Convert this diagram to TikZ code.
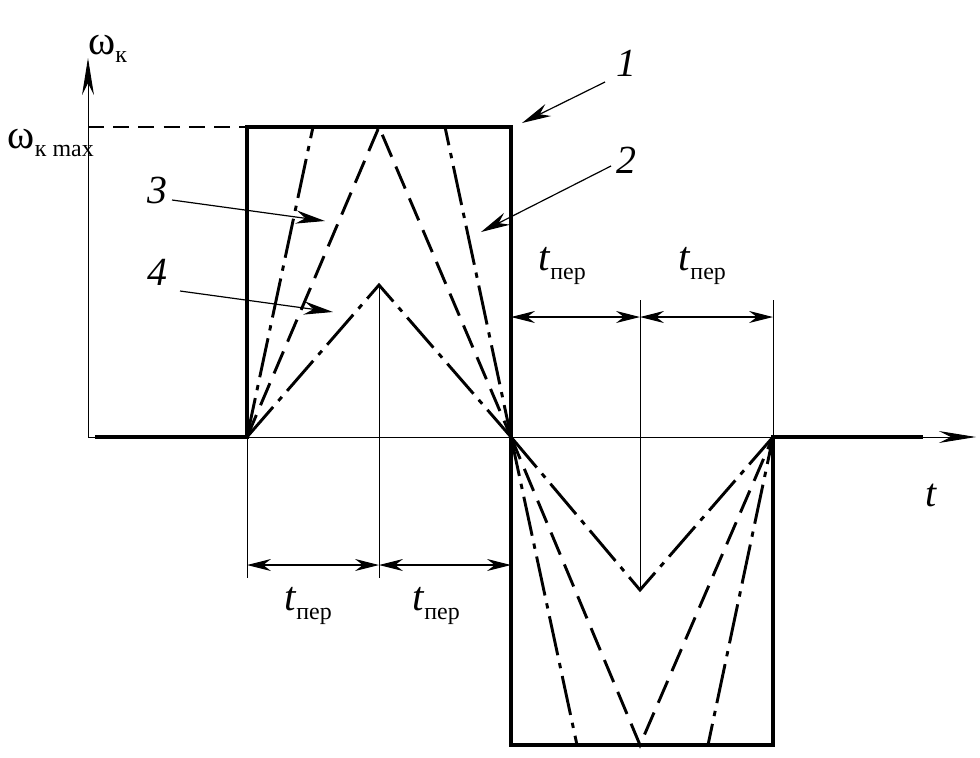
\documentclass[tikz,border=0pt]{standalone}
\usepackage{fontspec}
\setmainfont{Liberation Serif}
\usetikzlibrary{positioning, arrows.meta}

\newcommand{\lowsub}[1]{\raisebox{-0.45ex}{\fontsize{18}{18}\selectfont #1}}
\newcommand{\tper}{\textit{t}\lowsub{пер}}

\tikzset{
  mainline/.style={line width=2.4pt},
  guide/.style={line width=0.6pt},
  curvedash/.style={line width=2.2pt, dash pattern=on 18pt off 8pt},
  curvechain/.style={line width=2.2pt, dash pattern=on 30pt off 6pt on 4pt off 6pt},
  dimline/.style={line width=0.8pt, {Stealth[length=18pt,width=9pt]}-{Stealth[length=18pt,width=9pt]}},
  pointer/.style={line width=0.9pt, -{Stealth[length=22pt,width=10pt]}},
  axisline/.style={line width=0.7pt, -{Stealth[length=28pt,width=9pt]}},
  lbl/.style={inner sep=0pt, font=\fontsize{31}{34}\selectfont},
  numlbl/.style={inner sep=0pt, font=\fontsize{30}{33}\selectfont\itshape}
}

\begin{document}
\begin{tikzpicture}[x=0.02646cm, y=-0.02646cm]
    \useasboundingbox (0,0) rectangle (980,757);

    % key points
    \coordinate (o)  at (88,437);
    \coordinate (ytop) at (88,58);
    \coordinate (xend) at (976,437);
    \coordinate (s0) at (95,437);
    \coordinate (a)  at (247,437);
    \coordinate (m1) at (379,437);
    \coordinate (b)  at (511,437);
    \coordinate (m2) at (640,437);
    \coordinate (c)  at (773,437);
    \coordinate (s1) at (923,437);
    \coordinate (atop) at (247,127);
    \coordinate (btop) at (511,127);
    \coordinate (bbot) at (511,745);
    \coordinate (cbot) at (773,745);
    \coordinate (wmax) at (88,127);

    % axes
    \draw[axisline] (o) -- (ytop);
    \draw[axisline] (o) -- (xend);
    \node[lbl, anchor=base west] (wk) at (88,54) {ω\lowsub{к}};
    \node[lbl, anchor=base east] (wkmax) at (94,148) {ω\lowsub{к max}};
    \node[numlbl] (tax) at (931,495) {t};

    % curve 1
    \draw[dash pattern=on 12pt off 7pt, line width=0.8pt] (wmax) -- (atop);
    \draw[mainline] (s0) -- (a) -- (atop) -- (btop) -- (bbot) -- (cbot) -- (c) -- (s1);

    % curves 2, 3, 4
    \draw[curvechain] (a) -- (313,127) -- (445,127) -- (b);
    \draw[curvechain] (b) -- (577,745) -- (708,745) -- (c);
    \draw[curvedash] (a) -- (379,127) -- (b);
    \draw[curvedash] (b) -- (640,745) -- (c);
    \draw[curvechain] (a) -- (379,285) -- (b);
    \draw[curvechain] (b) -- (640,590) -- (c);

    % guides
    \draw[guide] (a) -- (247,578);
    \draw[guide] (379,285) -- (379,578);
    \draw[guide] (640,300) -- (640,590);
    \draw[guide] (773,300) -- (c);

    % time intervals
    \coordinate (d1) at (247,565);
    \coordinate (d2) at (379,565);
    \coordinate (d3) at (511,565);
    \coordinate (e1) at (511,317);
    \coordinate (e2) at (640,317);
    \coordinate (e3) at (773,317);
    \draw[dimline] (d1) -- (d2);
    \draw[dimline] (d2) -- (d3);
    \draw[dimline] (e1) -- (e2);
    \draw[dimline] (e2) -- (e3);
    \node[lbl] (tp1) at (308,606) {\tper};
    \node[lbl] (tp2) at (436,606) {\tper};
    \node[lbl] (tp3) at (562,266) {\tper};
    \node[lbl] (tp4) at (702,266) {\tper};

    % pointers
    \node[numlbl] (n1) at (626,63) {1};
    \node[numlbl] (n2) at (626,160) {2};
    \node[numlbl] (n3) at (157,190) {3};
    \node[numlbl] (n4) at (157,272) {4};
    \coordinate (q1) at (605,82);
    \coordinate (p1) at (522,123);
    \coordinate (q2) at (611,166);
    \coordinate (p2) at (481,232);
    \coordinate (q3) at (172,200);
    \coordinate (p3) at (325,221);
    \coordinate (q4) at (180,291);
    \coordinate (p4) at (333,312);
    \draw[pointer] (q1) -- (p1);
    \draw[pointer] (q2) -- (p2);
    \draw[pointer] (q3) -- (p3);
    \draw[pointer] (q4) -- (p4);
\end{tikzpicture}
\end{document}
